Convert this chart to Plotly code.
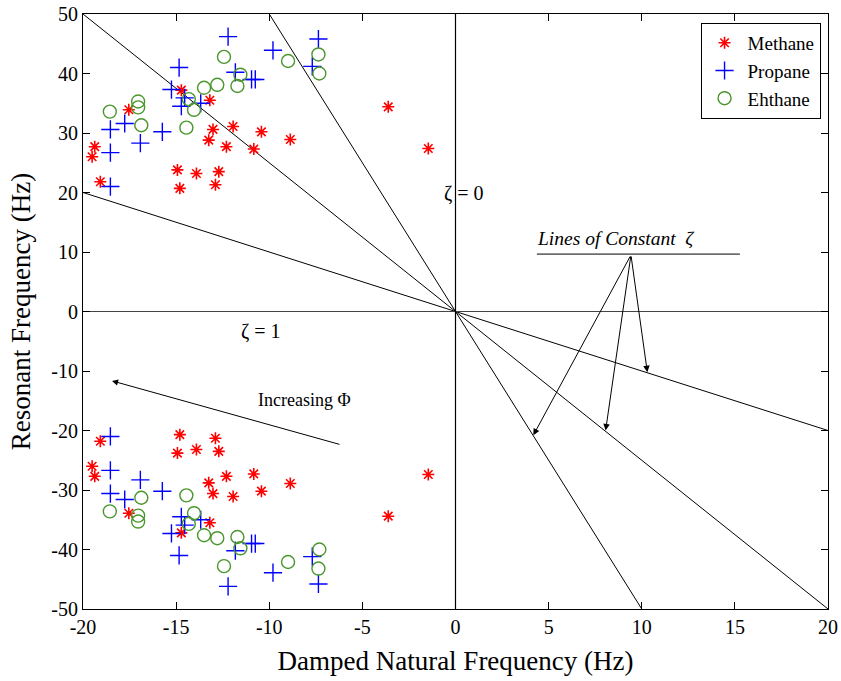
import plotly.graph_objects as go

# Upper-half roots (damped natural frequency, resonant frequency); lower half is the conjugate
methane_x = [-14.72, -13.19, -17.54, -13.02, -11.94, -10.42, -8.87, -13.25, -12.30, -10.83,
             -19.37, -19.51, -14.93, -13.91, -12.71, -19.07, -14.80, -12.89, -3.61, -1.46]
methane_y = [37.2, 35.5, 33.9, 30.6, 31.1, 30.2, 28.9, 28.8, 27.7, 27.3,
             27.7, 26.0, 23.8, 23.2, 23.5, 21.8, 20.7, 21.3, 34.4, 27.4]

propane_x = [-12.21, -9.80, -7.36, -14.84, -11.82, -10.95, -10.75, -7.69, -15.25, -14.54,
             -14.72, -13.68, -17.76, -18.53, -15.74, -16.92, -18.53, -18.53]
propane_y = [46.2, 43.9, 45.8, 41.0, 40.2, 39.0, 39.0, 41.2, 37.3, 35.9,
             34.5, 35.0, 31.6, 30.6, 30.2, 28.3, 26.7, 21.0]

ethane_x = [-12.43, -8.99, -7.36, -7.31, -11.55, -13.50, -12.79, -11.71, -14.32, -14.04,
            -17.04, -17.04, -18.56, -16.87, -14.45]
ethane_y = [42.8, 42.1, 43.2, 40.0, 39.8, 37.6, 38.1, 37.9, 35.7, 33.9,
            35.3, 34.3, 33.6, 31.3, 30.9]

# Lines of constant damping ratio through the origin (end points)
zeta_lines = [([-20, 20], [50, -50]), ([-10, 10], [50, -50]), ([-20, 20], [20, -20])]

x_ticks = [-20, -15, -10, -5, 0, 5, 10, 15, 20]
y_ticks = [-50, -40, -30, -20, -10, 0, 10, 20, 30, 40, 50]

FONT = "Liberation Serif"


def conj(xs, ys):
    return xs + xs, ys + [-v for v in ys]


fig = go.Figure()

for lx, ly in zeta_lines:
    fig.add_trace(go.Scatter(x=lx, y=ly, mode="lines", line=dict(color="black", width=1),
                             showlegend=False, hoverinfo="skip"))
fig.add_trace(go.Scatter(x=[-20, 20], y=[0, 0], mode="lines", line=dict(color="#444", width=1),
                         showlegend=False, hoverinfo="skip"))
fig.add_trace(go.Scatter(x=[0, 0], y=[-50, 50], mode="lines", line=dict(color="black", width=1.2),
                         showlegend=False, hoverinfo="skip"))

mx, my = conj(methane_x, methane_y)
px_, py_ = conj(propane_x, propane_y)
ex, ey = conj(ethane_x, ethane_y)

fig.add_trace(go.Scatter(x=mx, y=my, mode="markers", name="Methane",
                         marker=dict(symbol="asterisk-open", size=10, color="red",
                                     line=dict(color="red", width=1.6))))
fig.add_trace(go.Scatter(x=px_, y=py_, mode="markers", name="Propane",
                         marker=dict(symbol="cross-thin-open", size=13, color="blue",
                                     line=dict(color="blue", width=1.4))))
fig.add_trace(go.Scatter(x=ex, y=ey, mode="markers", name="Ehthane",
                         marker=dict(symbol="circle-open", size=13, color="#4a962c",
                                     line=dict(color="#4a962c", width=1.4))))

txt = dict(family=FONT, size=20, color="black")
ann = [
    dict(x=0.46, y=19.9, text="ζ = 0", showarrow=False, font=txt),
    dict(x=-10.44, y=-3.4, text="ζ = 1", showarrow=False, font=txt),
    dict(x=-8.1, y=-14.9, text="Increasing Φ", showarrow=False, font=dict(family=FONT, size=18, color="black")),
    dict(x=8.6, y=12.3, text="<i>Lines of Constant  ζ</i>", showarrow=False, font=dict(family=FONT, size=19.5, color="black")),
    dict(x=-18.44, y=-11.66, ax=-6.15, ay=-22.4, axref="x", ayref="y", text="",
         showarrow=True, arrowhead=2, arrowsize=1.2, arrowwidth=1, arrowcolor="black"),
]
for tx, ty in [(4.18, -20.8), (8.06, -20.0), (10.30, -10.2)]:
    ann.append(dict(x=tx, y=ty, ax=9.42, ay=9.5, axref="x", ayref="y", text="",
                    showarrow=True, arrowhead=2, arrowsize=1.3, arrowwidth=1, arrowcolor="black"))
fig.update_layout(annotations=ann)

fig.add_shape(type="line", x0=4.37, x1=15.27, y0=9.65, y1=9.65, xref="x", yref="y",
              line=dict(color="black", width=1))

axis_common = dict(showgrid=False, zeroline=False, showline=True, linecolor="black", linewidth=1,
                   mirror="ticks", ticks="inside", ticklen=7, tickcolor="black", automargin=False,
                   tickfont=dict(family=FONT, size=20, color="black"))
fig.update_xaxes(range=[-20, 20], tickvals=x_ticks, ticktext=[str(v) for v in x_ticks],
                 title=dict(text="Damped Natural Frequency (Hz)", font=dict(family=FONT, size=27, color="black"),
                            standoff=14), **axis_common)
fig.update_yaxes(range=[-50, 50], tickvals=y_ticks, ticktext=[str(v) for v in y_ticks],
                 title=dict(text="Resonant Frequency (Hz)", font=dict(family=FONT, size=27, color="black"),
                            standoff=12), **axis_common)

fig.update_layout(
    width=841, height=681,
    margin=dict(l=83, r=13, t=14, b=72),
    plot_bgcolor="white", paper_bgcolor="white",
    legend=dict(x=0.99, y=0.985, xanchor="right", yanchor="top", bordercolor="black", borderwidth=1,
                bgcolor="white", font=dict(family=FONT, size=19, color="black"),
                tracegroupgap=0, itemwidth=36),
    showlegend=True,
)

fig.write_html("out.html")
